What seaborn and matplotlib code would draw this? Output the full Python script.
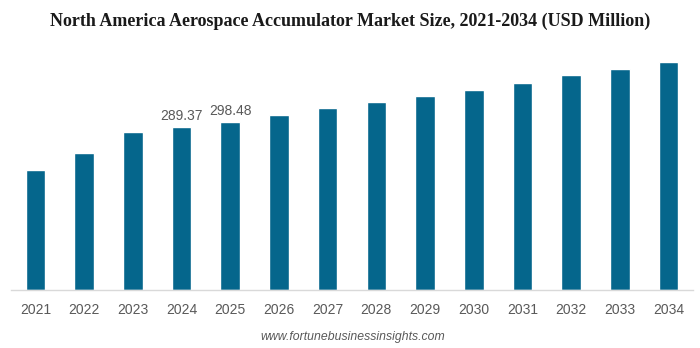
import matplotlib
matplotlib.use("Agg")
import matplotlib.pyplot as plt
import seaborn as sns
import pandas as pd

years = ["2021", "2022", "2023", "2024", "2025", "2026", "2027",
         "2028", "2029", "2030", "2031", "2032", "2033", "2034"]
values = [213.1, 242.8, 280.6, 289.37, 298.48, 310.8, 322.7,
          333.9, 344.0, 354.7, 367.1, 381.9, 393.1, 405.0]
labeled_years = ["2024", "2025"]

df = pd.DataFrame({"year": years, "value": values})

sns.set_theme(style="white")
plt.rcParams['font.family'] = ['Liberation Sans', 'DejaVu Sans']

fig = plt.figure(figsize=(7, 3.48), dpi=100)
ax = fig.add_axes([11/700, 1 - 290/348, 682/700, 240/348])

sns.barplot(data=df, x="year", y="value", color="#05668C", width=0.4,
            saturation=1, ax=ax)

ax.set_ylim(0, 426)
ax.set_xlim(-0.5, 13.5)
for s in ["top", "right", "left"]:
    ax.spines[s].set_visible(False)
ax.spines["bottom"].set_color("#d9d9d9")
ax.spines["bottom"].set_linewidth(1)
ax.set_yticks([])
ax.set_xlabel("")
ax.set_ylabel("")
ax.tick_params(axis="x", length=0, pad=9, labelsize=10, labelcolor="#595959")

for i, (y, v) in enumerate(zip(years, values)):
    if y in labeled_years:
        ax.annotate(f"{v:.2f}", (i, v), xytext=(0, 3), textcoords="offset points",
                    ha="center", va="bottom", fontsize=10, color="#595959")

fig.text(350/700, 1 - 21/348, "North America Aerospace Accumulator Market Size, 2021-2034 (USD Million)",
         ha="center", va="center", fontsize=13, fontweight="bold",
         family=["Liberation Serif", "DejaVu Serif"], color="#1a1a1a")
fig.text(353/700, 1 - 337/348, "www.fortunebusinessinsights.com", ha="center", va="center",
         fontsize=8.8, style="italic", color="#595959")

fig.savefig("out.png", dpi=100)
